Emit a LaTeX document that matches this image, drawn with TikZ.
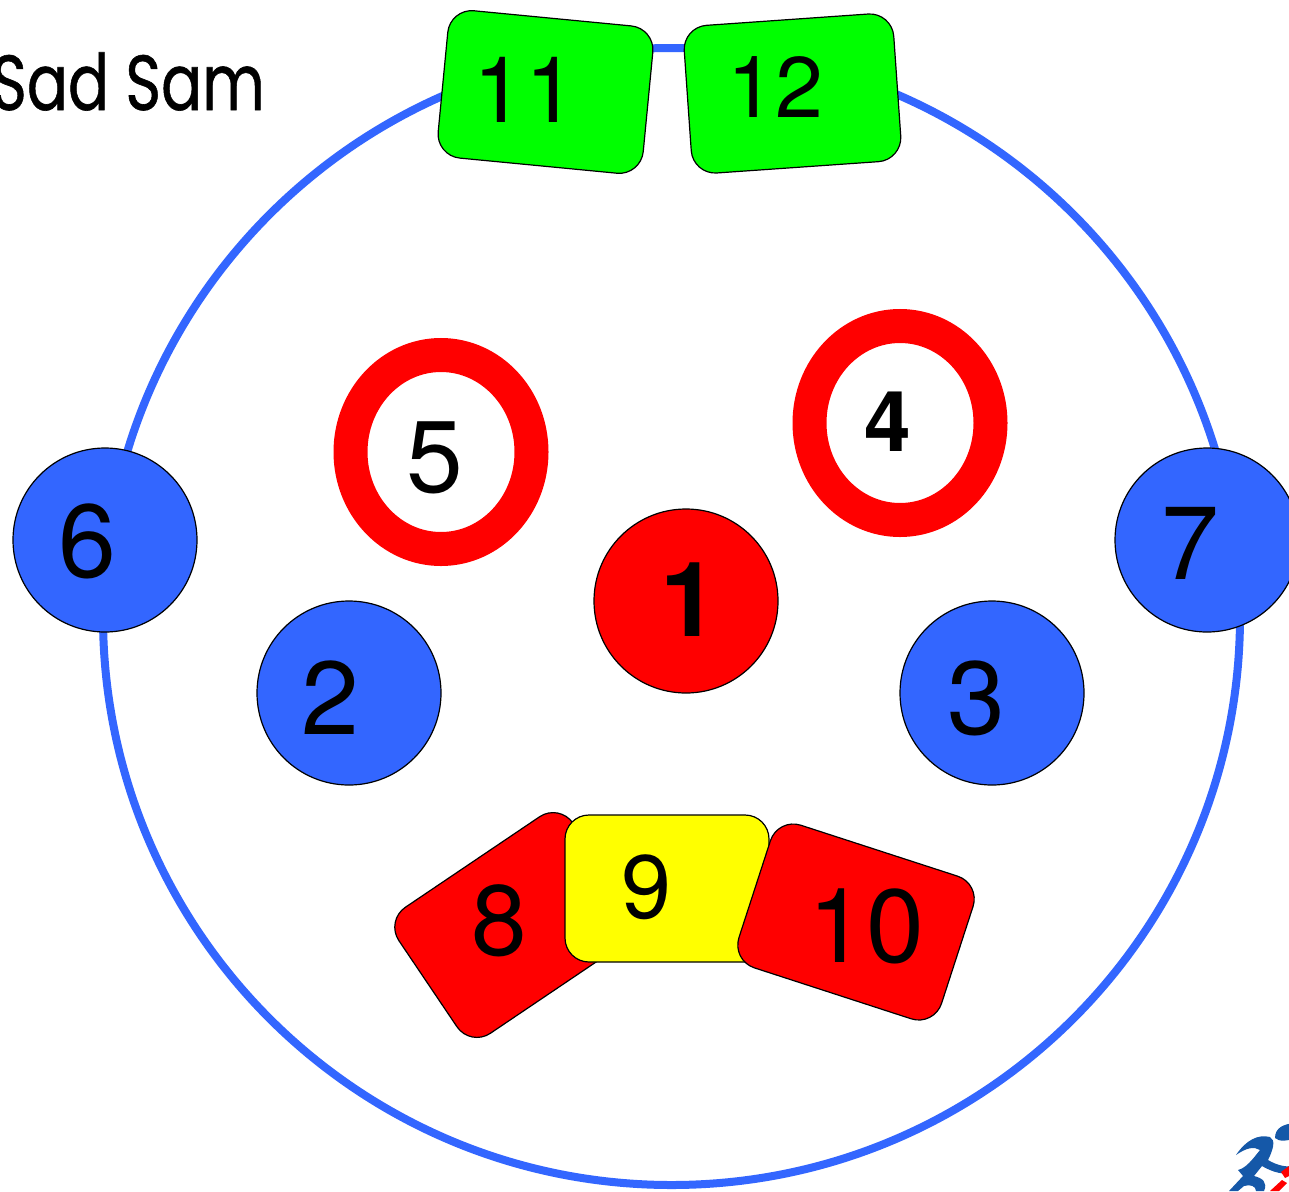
\documentclass[tikz,border=0pt]{standalone}
\usepackage{fontspec}
\setmainfont{TeX Gyre Heros}
\newfontfamily\titlefont[FakeBold=0.8]{Poppins}
\usetikzlibrary{shapes.geometric}
\definecolor{facered}{HTML}{FF0000}
\definecolor{faceblue}{HTML}{3366FF}
\definecolor{facegreen}{HTML}{00FF00}
\definecolor{faceyellow}{HTML}{FFFF00}
\definecolor{logoblue}{HTML}{1558A8}
\tikzset{
  x=1pt,y=-1pt,
  outline/.style={circle,draw=faceblue,line width=8pt,minimum size=1137pt,inner sep=0pt},
  spot/.style={circle,draw=black,line width=1.2pt,fill=faceblue,minimum size=184pt,inner sep=0pt},
  ring/.style={ellipse,draw=facered,line width=34pt,fill=white,minimum width=181pt,minimum height=194pt,inner sep=0pt},
  card/.style={draw=black,line width=1.2pt,rounded corners=24pt,minimum width=#1,minimum height=148pt,inner sep=0pt},
  digit/.style={inner sep=0pt,text=black,font=\fontsize{#1}{#1}\selectfont},
  bolddigit/.style={inner sep=0pt,text=black,font=\fontsize{#1}{#1}\selectfont\bfseries},
}
\begin{document}
\begin{tikzpicture}
\useasboundingbox (0,0) rectangle (1289,1191);
\fill[white] (0,0) rectangle (1289,1191);
\node[outline] (face) at (671.5,616.5) {};
\node[anchor=base west,inner sep=0pt,text=black,xscale=0.78,font=\titlefont\fontsize{78}{78}\selectfont] (title) at (-9,110) {Sad Sam};
% eyes and nose
\node[ring] (r5) at (441,452) {};
\node[ring] (r4) at (900,423) {};
\node[spot,fill=facered] (c1) at (686,601) {};
\node[spot] (c2) at (349,693) {};
\node[spot] (c3) at (992,693) {};
\node[spot] (c6) at (105,540) {};
\node[spot] (c7) at (1207,540) {};
% eyebrows
\node[card=206pt,fill=facegreen,rotate=-5.5] (b11) at (545.5,92) {};
\node[card=210pt,fill=facegreen,rotate=4] (b12) at (792.5,93.5) {};
% mouth
\node[card=210pt,fill=facered,rotate=34,minimum height=152pt] (m8) at (515,925) {};
\node[card=204pt,fill=faceyellow,minimum height=147pt] (m9) at (667,888.5) {};
\node[card=213pt,fill=facered,rotate=-18,minimum height=150pt] (m10) at (856,922) {};
% numbers
\node[bolddigit=104pt] (t1) at (689,600) {1};
\node[digit=104pt] (t2) at (330,698) {2};
\node[digit=104pt] (t3) at (976,698) {3};
\node[bolddigit=84pt] (t4) at (888,422) {4};
\node[digit=102pt] (t5) at (435,458) {5};
\node[digit=104pt] (t6) at (87,541) {6};
\node[digit=104pt] (t7) at (1190,543) {7};
\node[digit=100pt] (t8) at (499,921) {8};
\node[digit=90pt] (t9) at (647,887) {9};
\node[digit=104pt] (t10) at (866,926) {10};
\node[digit=92pt] (t11) at (525,90) {11};
\node[digit=86pt] (t12) at (775,87) {12};
% runner logo, cut by the page edge
\begin{scope}
\clip (0,0) rectangle (1289,1191);
\fill[logoblue] (1236,1155) .. controls (1246,1140) and (1258,1134) .. (1270,1137)
  .. controls (1276,1140) and (1273,1150) .. (1268,1160)
  .. controls (1278,1166) and (1289,1168) .. (1295,1165) -- (1295,1172)
  .. controls (1285,1176) and (1272,1172) .. (1262,1166)
  -- (1254,1176) .. controls (1262,1178) and (1268,1182) .. (1264,1191)
  -- (1256,1191) .. controls (1256,1186) and (1250,1184) .. (1244,1186)
  -- (1238,1191) -- (1229,1191) -- (1243,1176) -- (1238,1170)
  .. controls (1246,1168) and (1252,1160) .. (1260,1150)
  .. controls (1254,1146) and (1246,1148) .. (1236,1155) -- cycle;
\fill[logoblue] (1275,1138) .. controls (1275,1128) and (1283,1124) .. (1295,1123)
  -- (1295,1138) .. controls (1288,1141) and (1279,1142) .. (1275,1138) -- cycle;
\fill[facered] (1270,1191) -- (1282,1180) -- (1287,1183) -- (1279,1191) -- cycle;
\fill[facered] (1281,1172) -- (1289,1166) -- (1289,1176) -- (1285,1178) -- cycle;
\end{scope}
\end{tikzpicture}
\end{document}
